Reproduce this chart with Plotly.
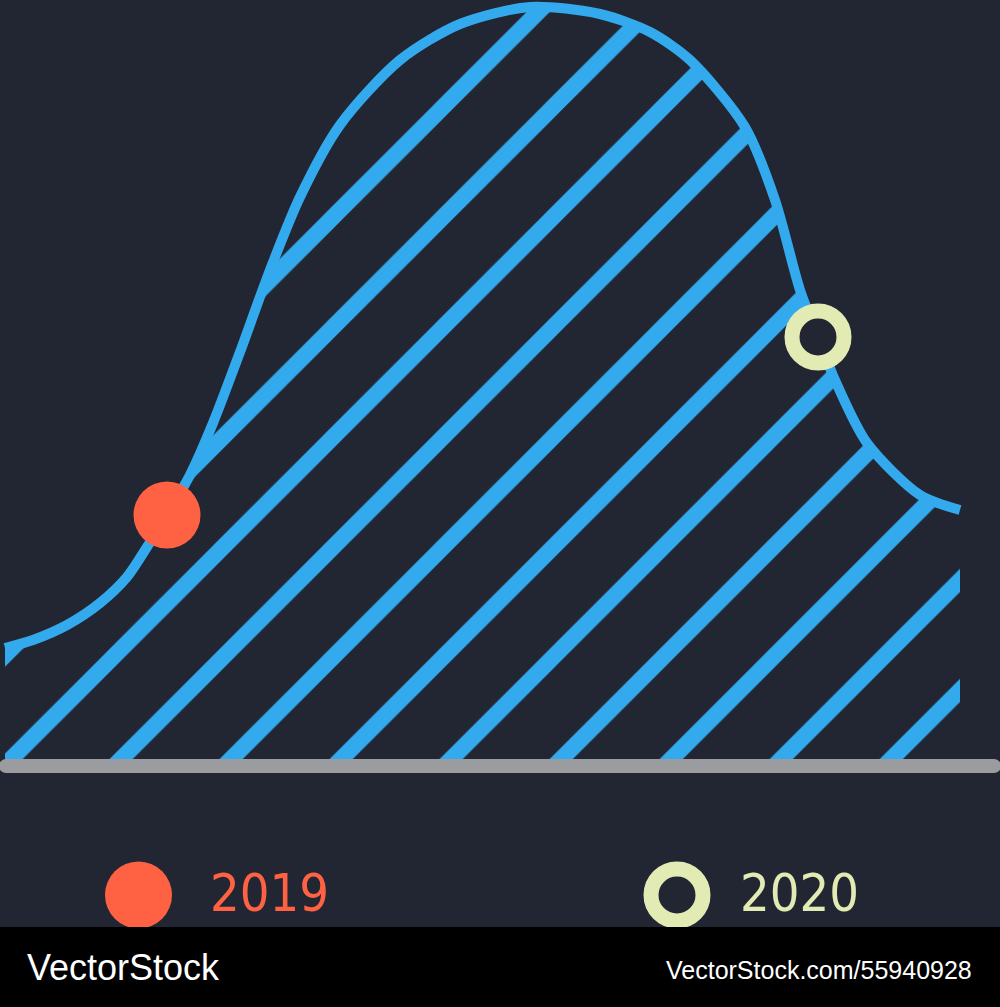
import plotly.graph_objects as go

# curve: x along the baseline, y = height above the baseline
curve_x = [5, 33, 67, 100, 127, 147, 167, 190, 213, 240, 270, 300, 340, 400,
           460, 530, 600, 650, 690, 745, 775, 800, 818, 835, 867, 920, 960]
curve_y = [118, 126, 141, 163, 189, 219, 251, 291, 343, 414, 496, 569, 641, 706,
           742, 759, 752, 734, 706, 639, 566, 476, 429, 386, 323, 271, 256]

# highlighted points on the curve
years = ["2019", "2020"]
point_x = [167, 818]
point_y = [251, 429]

footer_left = "VectorStock"
footer_right = "VectorStock.com/55940928"

BG = "#222632"
BLUE = "#34aaee"
RED = "#ff6242"
CREAM = "#e2ebb4"
GREY = "#9b9ca0"

W, H = 1000, 1007
BASE_PX = 766  # pixel row of the baseline


def py(p):
    # pixel row -> paper fraction
    return 1 - p / H


fig = go.Figure()

# hatched area under the curve
fig.add_trace(go.Scatter(
    x=curve_x, y=curve_y, mode="lines",
    line=dict(color=BLUE, width=10, shape="spline", smoothing=0.8),
    fill="tozeroy",
    fillpattern=dict(shape="/", size=77.8, solidity=0.21, fgcolor=BLUE,
                     bgcolor=BG, fgopacity=1, fillmode="replace"),
    hoverinfo="skip",
))

# 2019 dot
fig.add_trace(go.Scatter(
    x=point_x[:1], y=point_y[:1], mode="markers",
    marker=dict(size=67, color=RED, line=dict(width=0)),
    hoverinfo="skip",
))
# 2020 ring
fig.add_trace(go.Scatter(
    x=point_x[1:], y=point_y[1:], mode="markers",
    marker=dict(size=52, color=BG, line=dict(width=15, color=CREAM)),
    hoverinfo="skip",
))

shapes = [
    # baseline
    dict(type="line", xref="paper", yref="y", x0=0.006, x1=0.994, y0=0, y1=0,
         line=dict(color=GREY, width=14), layer="above"),
    # legend symbols
    dict(type="circle", xref="paper", yref="paper", xsizemode="pixel", ysizemode="pixel",
         xanchor=0.1385, yanchor=py(895), x0=-33.5, x1=33.5, y0=-33.5, y1=33.5,
         fillcolor=RED, line=dict(width=0), layer="above"),
    dict(type="circle", xref="paper", yref="paper", xsizemode="pixel", ysizemode="pixel",
         xanchor=0.677, yanchor=py(895), x0=-26, x1=26, y0=-26, y1=26,
         fillcolor=BG, line=dict(width=15, color=CREAM), layer="above"),
    # footer band
    dict(type="rect", xref="paper", yref="paper", x0=0, x1=1, y0=0, y1=py(927),
         fillcolor="#000000", line=dict(width=0), layer="above"),
]
# rounded ends of the baseline
for cx in (0.006, 0.994):
    shapes.insert(1, dict(type="circle", xref="paper", yref="y", xsizemode="pixel",
                          ysizemode="pixel", xanchor=cx, yanchor=0, x0=-7, x1=7, y0=-7, y1=7,
                          fillcolor=GREY, line=dict(width=0), layer="above"))

legend_font = "Liberation Sans Narrow, DejaVu Sans Condensed, Liberation Sans"
annotations = [
    dict(text=years[0], x=0.208, y=py(893), xref="paper", yref="paper",
         xanchor="left", yanchor="middle", showarrow=False,
         font=dict(family=legend_font, size=52, color=RED)),
    dict(text=years[1], x=0.738, y=py(893), xref="paper", yref="paper",
         xanchor="left", yanchor="middle", showarrow=False,
         font=dict(family=legend_font, size=52, color=CREAM)),
    dict(text=footer_left, x=0.025, y=py(967), xref="paper", yref="paper",
         xanchor="left", yanchor="middle", showarrow=False,
         font=dict(family="Liberation Sans", size=36, color="#ffffff")),
    dict(text=footer_right, x=0.974, y=py(970), xref="paper", yref="paper",
         xanchor="right", yanchor="middle", showarrow=False,
         font=dict(family="Liberation Sans", size=25, color="#ffffff")),
]

fig.update_layout(
    width=W, height=H,
    margin=dict(l=0, r=0, t=0, b=0),
    paper_bgcolor=BG, plot_bgcolor=BG,
    showlegend=False,
    shapes=shapes,
    annotations=annotations,
    xaxis=dict(range=[0, W], visible=False, fixedrange=True),
    yaxis=dict(range=[BASE_PX - H, BASE_PX], visible=False, fixedrange=True),
)

# drop the browser's default page margin so the figure fills the window
fig.write_html("out.html", config={"displayModeBar": False},
               post_script="document.body.style.margin = '0';")
